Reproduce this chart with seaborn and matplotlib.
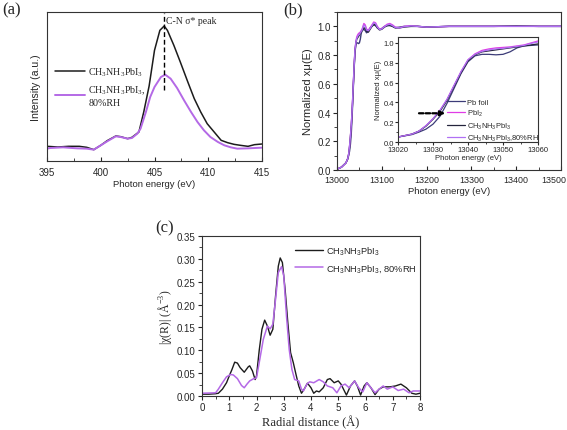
import numpy as np
import pandas as pd
import matplotlib
matplotlib.use("Agg")
import matplotlib.pyplot as plt
from matplotlib.lines import Line2D
from matplotlib.ticker import MultipleLocator
from matplotlib.transforms import ScaledTranslation
import seaborn as sns

sns.set_style("ticks")
SANS = ["Liberation Sans", "DejaVu Sans"]
SERIF = ["Liberation Serif", "DejaVu Serif"]
plt.rcParams["font.family"] = SANS
plt.rcParams["axes.linewidth"] = 0.8
plt.rcParams["mathtext.default"] = "regular"

# ---------------- data ----------------
# (a) N K-edge NEXAFS
a_black_x = [395, 396, 397, 398, 398.7, 399.35, 400, 400.6, 401.4, 401.85, 402.5, 402.9,
             403.55, 404.0, 404.5, 405.0, 405.5, 405.9, 406.2, 406.8, 407.4, 408.1, 408.7,
             409.3, 409.9, 410.55, 411.2, 411.8, 412.4, 413.0, 413.7, 414.3, 415]
a_black_y = [0.44, 0.42, 0.44, 0.44, 0.41, 0.34, 0.47, 0.61, 0.75, 0.73, 0.67, 0.71,
             0.87, 1.47, 2.25, 3.32, 3.92, 4.05, 3.92, 3.47, 2.97, 2.37, 1.87,
             1.47, 1.12, 0.87, 0.62, 0.55, 0.50, 0.47, 0.44, 0.49, 0.51]
a_purple_x = [395, 395.3, 395.9, 396.5, 396.9, 397.8, 398.7, 399.35, 400, 400.6, 401.4,
              401.85, 402.5, 402.9, 403.4, 403.7, 404.2, 404.6, 405.0, 405.6, 406.0, 406.5,
              407.1, 407.75, 408.4, 409.0, 409.6, 410.2, 410.9, 411.5, 412.1, 412.7, 413.7, 415]
a_purple_y = [0.37, 0.39, 0.40, 0.41, 0.40, 0.38, 0.37, 0.34, 0.47, 0.59, 0.74,
              0.72, 0.67, 0.69, 0.82, 0.97, 1.47, 1.92, 2.22, 2.52, 2.59, 2.47,
              2.19, 1.82, 1.47, 1.17, 0.92, 0.72, 0.57, 0.47, 0.41, 0.37, 0.38, 0.40]
peak_energy = 405.9
peak_line_bottom = 2.12

# (b) Pb L3-edge XANES
b_energy = [13000, 13010, 13020, 13024, 13026, 13028, 13030, 13032, 13034, 13036, 13038,
            13040, 13042, 13044, 13046, 13048, 13050, 13052, 13054, 13056, 13058, 13060,
            13063, 13066, 13070, 13074, 13078, 13082, 13086, 13090, 13095, 13100, 13106,
            13112, 13118, 13124, 13130, 13140, 13150, 13165, 13180, 13200, 13250, 13300,
            13350, 13400, 13450, 13500]
b_pbfoil = [0.005, 0.02, 0.05, 0.075, 0.10, 0.13, 0.18, 0.26, 0.39, 0.54, 0.69,
            0.81, 0.87, 0.885, 0.885, 0.88, 0.885, 0.91, 0.95, 0.97, 0.975, 0.98,
            0.97, 0.955, 0.965, 0.99, 1.0, 1.01, 1.005, 0.99, 0.98, 0.985, 1.0,
            1.005, 1.005, 1.0, 0.99, 0.995, 1.0, 1.0, 1.0, 0.995, 1.0, 1.0,
            1.0, 1.002, 1.0, 1.0]
b_pbi2 = [0.005, 0.02, 0.05, 0.08, 0.11, 0.165, 0.235, 0.32, 0.43, 0.57, 0.71,
          0.83, 0.89, 0.925, 0.94, 0.95, 0.955, 0.96, 0.97, 0.98, 1.0, 1.02,
          1.01, 0.98, 0.975, 0.99, 1.01, 1.03, 1.025, 1.0, 0.98, 0.985, 1.0,
          1.015, 1.02, 1.01, 0.995, 0.99, 1.0, 1.005, 1.0, 0.995, 1.0, 1.0,
          1.0, 1.0, 1.0, 1.0]
b_mapbi3 = [0.005, 0.02, 0.05, 0.08, 0.11, 0.16, 0.23, 0.31, 0.42, 0.56, 0.70,
            0.82, 0.88, 0.91, 0.92, 0.93, 0.94, 0.95, 0.96, 0.97, 0.98, 0.99,
            0.985, 0.965, 0.96, 0.98, 1.0, 1.015, 1.01, 0.99, 0.975, 0.98, 0.995,
            1.005, 1.01, 1.0, 0.99, 0.99, 0.995, 1.0, 1.0, 0.995, 1.0, 1.0,
            1.0, 1.002, 1.0, 1.0]
b_rh = [0.005, 0.02, 0.05, 0.08, 0.11, 0.165, 0.235, 0.32, 0.43, 0.57, 0.71,
        0.83, 0.885, 0.915, 0.93, 0.94, 0.945, 0.955, 0.965, 0.975, 0.995, 1.01,
        1.0, 0.975, 0.97, 0.985, 1.005, 1.025, 1.02, 0.995, 0.978, 0.982, 0.998,
        1.01, 1.015, 1.005, 0.992, 0.99, 0.998, 1.003, 1.0, 0.995, 1.0, 1.0,
        1.0, 1.0, 1.0, 1.0]
arrow_y = 0.29
arrow_from, arrow_to = 13026, 13033.5

# (c) Fourier-transformed EXAFS
c_black_r = [0, 0.25, 0.5, 0.6, 0.75, 0.9, 1.0, 1.1, 1.2, 1.3, 1.4, 1.55, 1.7, 1.75, 1.85,
             1.95, 2.0, 2.1, 2.2, 2.3, 2.4, 2.5, 2.6, 2.7, 2.8, 2.87, 2.95, 3.05, 3.15,
             3.25, 3.35, 3.45, 3.55, 3.65, 3.75, 3.87, 4.0, 4.1, 4.2, 4.3, 4.45, 4.6,
             4.7, 4.85, 5.0, 5.1, 5.3, 5.45, 5.6, 5.7, 5.82, 5.95, 6.05, 6.2, 6.35, 6.5,
             6.65, 6.9, 7.1, 7.3, 7.5, 7.7, 7.85, 8.0]
c_black_chi = [0.004, 0.004, 0.005, 0.006, 0.015, 0.029, 0.044, 0.058, 0.074, 0.072, 0.062,
               0.052, 0.064, 0.066, 0.055, 0.036, 0.044, 0.10, 0.146, 0.166, 0.153, 0.133,
               0.146, 0.219, 0.284, 0.302, 0.292, 0.233, 0.16, 0.095, 0.073, 0.047, 0.022,
               0.006, 0.015, 0.028, 0.018, 0.006, 0.011, 0.009, 0.018, 0.036, 0.038, 0.029,
               0.033, 0.026, 0.002, 0.022, 0.033, 0.022, 0.002, 0.022, 0.029, 0.018, 0.003,
               0.015, 0.020, 0.020, 0.022, 0.026, 0.018, 0.006, 0.004, 0.006]
c_rh_r = [0, 0.5, 0.6, 0.75, 0.9, 1.05, 1.15, 1.3, 1.45, 1.55, 1.65, 1.75, 1.9, 2.0, 2.1,
          2.25, 2.4, 2.5, 2.6, 2.7, 2.8, 2.92, 3.0, 3.1, 3.2, 3.3, 3.4, 3.55, 3.65, 3.72,
          3.85, 3.95, 4.1, 4.3, 4.45, 4.6, 4.8, 4.95, 5.1, 5.25, 5.4, 5.6, 5.75, 5.9,
          6.05, 6.2, 6.35, 6.5, 6.65, 6.8, 7.0, 7.2, 7.4, 7.6, 7.75, 8.0]
c_rh_chi = [0.006, 0.007, 0.015, 0.029, 0.042, 0.047, 0.046, 0.038, 0.023, 0.018, 0.026,
            0.033, 0.038, 0.040, 0.073, 0.124, 0.153, 0.147, 0.157, 0.212, 0.27, 0.283,
            0.263, 0.175, 0.102, 0.058, 0.036, 0.033, 0.015, 0.011, 0.026, 0.031, 0.029,
            0.036, 0.031, 0.022, 0.018, 0.007, 0.022, 0.026, 0.018, 0.033, 0.018, 0.009,
            0.029, 0.018, 0.007, 0.015, 0.022, 0.015, 0.020, 0.012, 0.015, 0.007, 0.011,
            0.011]

MA = r"$\mathregular{CH_3NH_3PbI_3}$"
BLACK = "#1c1c1c"
PURPLE = "#b469e6"
NAVY = "#3c3c78"
MAGENTA = "#e03ce6"
DARK = "#24243c"
VIOLET = "#b070f4"

fig = plt.figure(figsize=(5.67, 4.31), dpi=100)

# ---------------- (a) ----------------
axa = fig.add_axes([47 / 567, 1 - 162 / 431, 215 / 567, 149 / 431])
sns.lineplot(x=a_black_x, y=a_black_y, ax=axa, color=BLACK, lw=1.1)
sns.lineplot(x=a_purple_x, y=a_purple_y, ax=axa, color=PURPLE, lw=1.4)
axa.vlines(peak_energy, peak_line_bottom, 4.45, colors="black", linestyles=(0, (3.5, 2)), lw=1.0)
axa.text(peak_energy + 0.15, 4.2, "C-N σ* peak", family=SERIF, fontsize=7, va="center")
axa.set_xlim(395, 415)
axa.set_ylim(0, 4.47)
axa.set_yticks([])
axa.xaxis.set_major_locator(MultipleLocator(5))
axa.xaxis.set_minor_locator(MultipleLocator(2.5))
axa.tick_params(axis="x", which="both", direction="in", labelsize=7, pad=4)
axa.tick_params(axis="x", which="major", length=3)
axa.tick_params(axis="x", which="minor", length=2)
axa.set_xlabel("Photon energy (eV)", fontsize=6.8, labelpad=2)
axa.set_ylabel("Intensity (a.u.)", fontsize=7.6, labelpad=4)
ha = [Line2D([], [], color=BLACK, lw=1.1), Line2D([], [], color=PURPLE, lw=1.4)]
axa.legend(ha, [MA, MA + ",\n80%RH"], loc="upper left", bbox_to_anchor=(0.02, 0.67),
           frameon=False, prop={"family": SERIF, "size": 7.2}, handlelength=3.0,
           handletextpad=0.3, labelspacing=0.6, borderaxespad=0)
fig.text(0.004, 0.995, "(a)", family=SERIF, fontsize=12, va="top", ha="left")

# ---------------- (b) ----------------
axb = fig.add_axes([337 / 567, 1 - 171 / 431, 224 / 567, 158 / 431])
b_series = [("Pb foil", b_pbfoil, NAVY), (r"$\mathregular{PbI_2}$", b_pbi2, MAGENTA),
            (MA, b_mapbi3, DARK), (MA + ",80%RH", b_rh, VIOLET)]
for lab, vals, col in b_series:
    sns.lineplot(x=b_energy, y=vals, ax=axb, color=col, lw=1.0)
axb.set_xlim(13000, 13500)
axb.set_ylim(0, 1.1)
axb.xaxis.set_major_locator(MultipleLocator(100))
axb.xaxis.set_minor_locator(MultipleLocator(50))
axb.yaxis.set_major_locator(MultipleLocator(0.2))
axb.yaxis.set_minor_locator(MultipleLocator(0.1))
axb.yaxis.set_major_formatter(plt.FormatStrFormatter("%.1f"))
axb.tick_params(which="both", labelsize=7, pad=1.5)
axb.tick_params(axis="x", which="both", direction="in", labelsize=6.4, pad=3.5)
axb.tick_params(axis="y", which="both", direction="out")
axb.tick_params(which="major", length=3)
axb.tick_params(which="minor", length=2)
axb.set_xlabel("Photon energy (eV)", fontsize=6.8, labelpad=1.5)
axb.set_ylabel("Normalized xμ(E)", fontsize=8, labelpad=3)
fig.text(283 / 567, 0.995, "(b)", family=SERIF, fontsize=12, va="top", ha="left")

# inset
axi = fig.add_axes([398 / 567, 1 - 143 / 431, 140 / 567, 105 / 431])
for lab, vals, col in b_series:
    sns.lineplot(x=b_energy, y=vals, ax=axi, color=col, lw=0.9, label=lab)
axi.annotate("", xy=(arrow_to, arrow_y), xytext=(arrow_from, arrow_y),
             arrowprops=dict(arrowstyle="-|>", color="black", lw=1.6, ls=(0, (2, 1)),
                             mutation_scale=7, shrinkA=0, shrinkB=0))
axi.set_xlim(13020, 13060)
axi.set_ylim(0, 1.06)
axi.xaxis.set_major_locator(MultipleLocator(10))
axi.xaxis.set_minor_locator(MultipleLocator(5))
axi.yaxis.set_major_locator(MultipleLocator(0.2))
axi.yaxis.set_minor_locator(MultipleLocator(0.1))
axi.yaxis.set_major_formatter(plt.FormatStrFormatter("%.1f"))
axi.tick_params(which="both", labelsize=5.5, pad=1, direction="out")
axi.tick_params(which="major", length=2)
axi.tick_params(which="minor", length=1.2)
axi.set_xlabel("Photon energy (eV)", fontsize=5.5, labelpad=0.5)
axi.set_ylabel("Normalized xμ(E)", fontsize=5.5, labelpad=1)
axi.legend(loc="lower right", bbox_to_anchor=(1.03, -0.04), frameon=False,
           prop={"family": SANS, "size": 5.4}, handlelength=2.4, handletextpad=0.3,
           labelspacing=0.3, borderaxespad=0)

# ---------------- (c) ----------------
axc = fig.add_axes([202 / 567, 1 - 397 / 431, 218 / 567, 160 / 431])
sns.lineplot(x=c_black_r, y=c_black_chi, ax=axc, color=BLACK, lw=1.0, label=MA)
sns.lineplot(x=c_rh_r, y=c_rh_chi, ax=axc, color=PURPLE, lw=1.1, label=MA + ", 80%RH")
axc.set_xlim(0, 8)
axc.set_ylim(0, 0.35)
axc.xaxis.set_major_locator(MultipleLocator(1))
axc.xaxis.set_minor_locator(MultipleLocator(0.5))
axc.yaxis.set_major_locator(MultipleLocator(0.05))
axc.yaxis.set_minor_locator(MultipleLocator(0.025))
axc.yaxis.set_major_formatter(plt.FormatStrFormatter("%.2f"))
axc.tick_params(which="both", labelsize=7, pad=1.5, direction="out")
axc.tick_params(which="major", length=3)
axc.tick_params(which="minor", length=2)
axc.set_xlabel("Radial distance (Å)", family=SERIF, fontsize=9, labelpad=2)
axc.set_ylabel("|χ(R)| (Å$\\mathregular{^{-3}}$)", family=SERIF, fontsize=8.5, labelpad=2)
axc.legend(loc="upper right", bbox_to_anchor=(1.0, 0.97), frameon=False,
           prop={"family": SANS, "size": 6.7}, handlelength=3.0, handletextpad=0.3,
           labelspacing=0.5, borderaxespad=0)
fig.text(155 / 567, 1 - 220 / 431, "(c)", family=SERIF, fontsize=12, va="top", ha="left")

for ax in (axa, axb, axi, axc):
    for s in ax.spines.values():
        s.set_visible(True)
        s.set_color("#333333")
        s.set_linewidth(0.8)

# keep the last tick label of (b) inside the figure, as in the reference
fig.canvas.draw()
last_tick = [t for t in axb.xaxis.get_major_ticks() if abs(t.get_loc() - 13500) < 1e-6]
for t in last_tick:
    t.label1.set_transform(t.label1.get_transform() + ScaledTranslation(-7 / 100, 0, fig.dpi_scale_trans))

fig.savefig("out.png", dpi=100)
